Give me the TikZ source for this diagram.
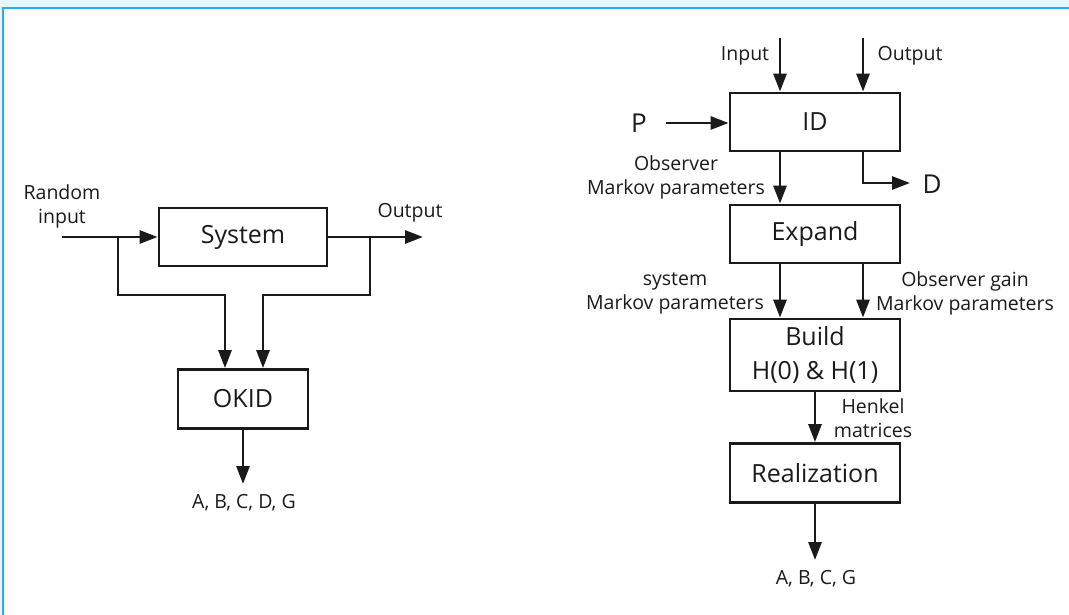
\documentclass[tikz,border=0pt]{standalone}
\usepackage{fontspec}
\setmainfont{Open Sans}
\usepackage{xcolor}
\usepackage{tikz}
\usetikzlibrary{arrows.meta}

\definecolor{frameblue}{HTML}{22B0EE}
\definecolor{gridblue}{HTML}{EAF6FD}
\definecolor{ink}{HTML}{1A1A1A}

\tikzset{
    block/.style={draw=ink, line width=2.8pt, inner sep=0pt, align=center,
        text=ink, font=\fontsize{25}{34}\selectfont},
    lbl/.style={inner sep=0pt, align=center, text=ink, font=\fontsize{19.5}{24}\selectfont},
    big/.style={inner sep=0pt, text=ink, font=\fontsize{26}{30}\selectfont},
    wire/.style={draw=ink, line width=2.8pt},
}

\begin{document}
\begin{tikzpicture}[x=1pt, y=-1pt, >={Triangle[length=18pt,width=13pt]}]
    \useasboundingbox (0,0) rectangle (1069,615);
    % frame
    \fill[gridblue] (0,0) rectangle (1069,8);
    \fill[gridblue] (0,0) rectangle (3,615);
    \draw[frameblue, line width=1.2pt] (3,615) -- (3,8) -- (1069,8);

    % left: OKID
    \node[block, minimum width=168pt, minimum height=58pt] (sys) at (243,237) {System};
    \node[block, minimum width=130pt, minimum height=59pt] (okid) at (243,399) {OKID};
    \node[lbl] (rin) at (62,206) {Random\\input};
    \node[lbl] (lout) at (410,213) {Output};
    \node[lbl] (labcdg) at (244,503) {A, B, C, D, G};
    \coordinate (in) at (62,237);
    \coordinate (b1) at (118,237);
    \coordinate (out) at (423,237);
    \coordinate (b2) at (370,237);
    \coordinate (r1) at (225,295);
    \coordinate (r2) at (263,295);
    \coordinate (res1) at (243,484);
    \draw[wire,->] (in) -- (sys.west);
    \draw[wire,->] (sys.east) -- (out);
    \draw[wire,->] (b1) |- (r1) -- (r1 |- okid.north);
    \draw[wire,->] (b2) |- (r2) -- (r2 |- okid.north);
    \draw[wire,->] (okid.south) -- (res1);

    % right: OKID steps
    \node[block, minimum width=170pt, minimum height=58pt] (id) at (815,122) {ID};
    \node[block, minimum width=170pt, minimum height=58pt] (exp) at (815,234) {Expand};
    \node[block, minimum width=170pt, minimum height=72pt] (build) at (815,355) {Build\\H(0) \& H(1)};
    \node[block, minimum width=170pt, minimum height=59pt] (real) at (815,473) {Realization};
    \node[lbl] (lin) at (745,56) {Input};
    \node[lbl] (rout) at (910,56) {Output};
    \node[big] (p) at (639,123) {P};
    \node[big] (d) at (932,184) {D};
    \node[lbl] (obs) at (676,177) {Observer\\Markov parameters};
    \node[lbl] (sysm) at (675,293) {system\\Markov parameters};
    \node[lbl] (obsg) at (965,293) {Observer gain\\Markov parameters};
    \node[lbl] (henk) at (873,418) {Henkel\\matrices};
    \node[lbl] (rabcg) at (816,579) {A, B, C, G};
    \coordinate (tin) at (780,38);
    \coordinate (tout) at (863,38);
    \coordinate (pin) at (666,123);
    \coordinate (dd) at (863,151);
    \coordinate (dc) at (863,183);
    \coordinate (dout) at (910,183);
    \coordinate (res2) at (815,560);
    \draw[wire,->] (tin) -- (tin |- id.north);
    \draw[wire,->] (tout) -- (tout |- id.north);
    \draw[wire,->] (pin) -- (pin -| id.west);
    \draw[wire,->] (tin |- id.south) -- (tin |- exp.north);
    \draw[wire,->] (dd) -- (dc) -- (dout);
    \draw[wire,->] (tin |- exp.south) -- (tin |- build.north);
    \draw[wire,->] (tout |- exp.south) -- (tout |- build.north);
    \draw[wire,->] (build.south) -- (real.north);
    \draw[wire,->] (real.south) -- (res2);
\end{tikzpicture}
\end{document}
